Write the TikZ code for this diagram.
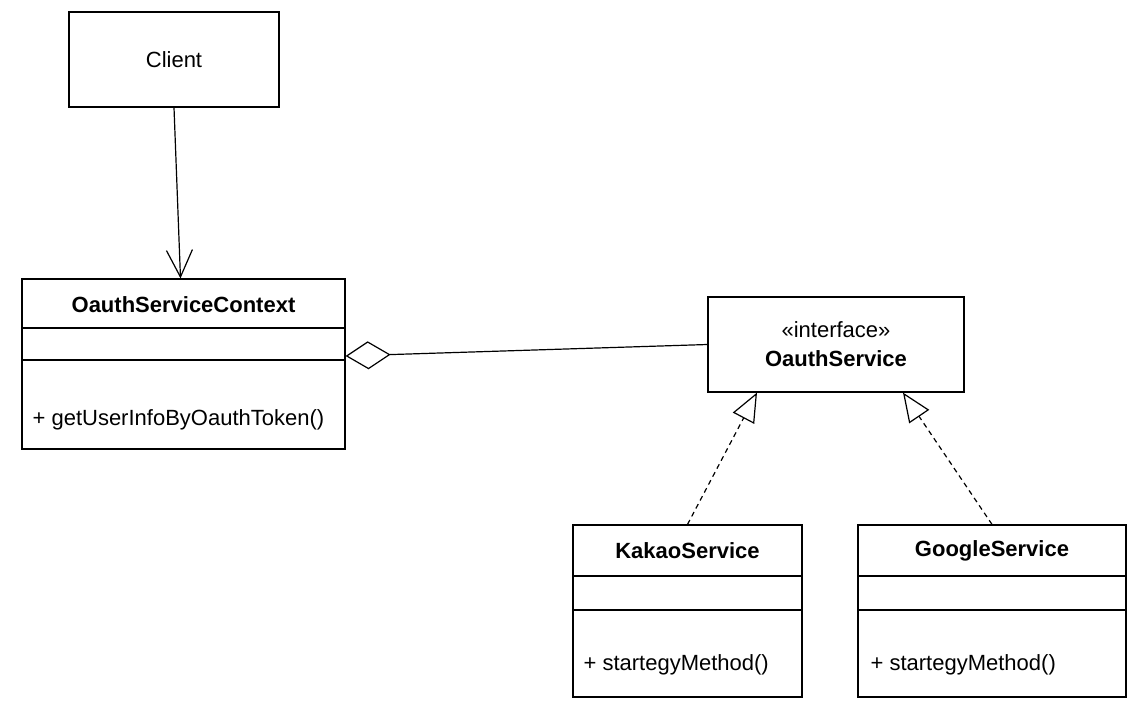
\documentclass[tikz,border=0pt]{standalone}
\usepackage{fontspec}
\setmainfont{Liberation Sans}
\usetikzlibrary{arrows.meta}

\begin{document}
\begin{tikzpicture}[
    x=1pt, y=-1pt,
    font=\fontsize{22}{26}\selectfont,
    classbox/.style={draw, line width=1.2pt, rectangle, inner sep=0pt},
    ctitle/.style={font=\fontsize{22}{26}\selectfont\bfseries, inner sep=0pt},
    member/.style={anchor=west, inner sep=0pt},
    divider/.style={line width=1.2pt},
    assoc/.style={line width=1.2pt, -{Straight Barb[length=27pt, width=26pt, line width=1.2pt]}},
    aggr/.style={line width=1.2pt, -{Diamond[open, length=45pt, width=28pt, line width=1.2pt]}},
    realize/.style={line width=1.2pt, dash pattern=on 5pt off 4pt,
        -{Triangle[open, length=29pt, width=24pt, line width=1.2pt]}}
]
    \useasboundingbox (0,0) rectangle (1146,720);
    % Caixas
    \node[classbox, minimum width=210pt, minimum height=95pt] (client) at (174,59.5) {Client};
    \node[classbox, minimum width=323pt, minimum height=170pt] (ctx) at (183.5,364) {};
    \node[classbox, minimum width=256pt, minimum height=95pt] (iface) at (836,344.5) {};
    \node[classbox, minimum width=229pt, minimum height=172pt] (kakao) at (687.5,611) {};
    \node[classbox, minimum width=268pt, minimum height=172pt] (google) at (992,611) {};
    % Titulos
    \node[ctitle] (ctx-t) at (ctx.north |- 0,305) {OauthServiceContext};
    \node (iface-s) at (iface.north |- 0,330) {«interface»};
    \node[ctitle] (iface-t) at (iface.north |- 0,359) {OauthService};
    \node[ctitle] (kakao-t) at (kakao.north |- 0,551) {KakaoService};
    \node[ctitle] (google-t) at (google.north |- 0,551) {GoogleService};
    % Divisorias
    \draw[divider] (ctx.west |- 0,328) -- (ctx.east |- 0,328);
    \draw[divider] (ctx.west |- 0,360) -- (ctx.east |- 0,360);
    \foreach \cls in {kakao, google} {
        \draw[divider] (\cls.west |- 0,576) -- (\cls.east |- 0,576);
        \draw[divider] (\cls.west |- 0,610) -- (\cls.east |- 0,610);
    }
    % Metodos
    \node[member] (ctx-m) at ([xshift=11pt]ctx.west |- 0,420) {+ getUserInfoByOauthToken()};
    \node[member] (kakao-m) at ([xshift=11pt]kakao.west |- 0,665) {+ startegyMethod()};
    \node[member] (google-m) at ([xshift=13pt]google.west |- 0,665) {+ startegyMethod()};
    % Relacoes
    \draw[assoc] (client.south) -- ([xshift=-3pt]ctx.north);
    \draw[aggr] (iface.west) -- ([yshift=8pt]ctx.east);
    \draw[realize] (kakao.north) -- ([xshift=-79pt]iface.south);
    \draw[realize] (google.north) -- ([xshift=67pt]iface.south);
\end{tikzpicture}
\end{document}
